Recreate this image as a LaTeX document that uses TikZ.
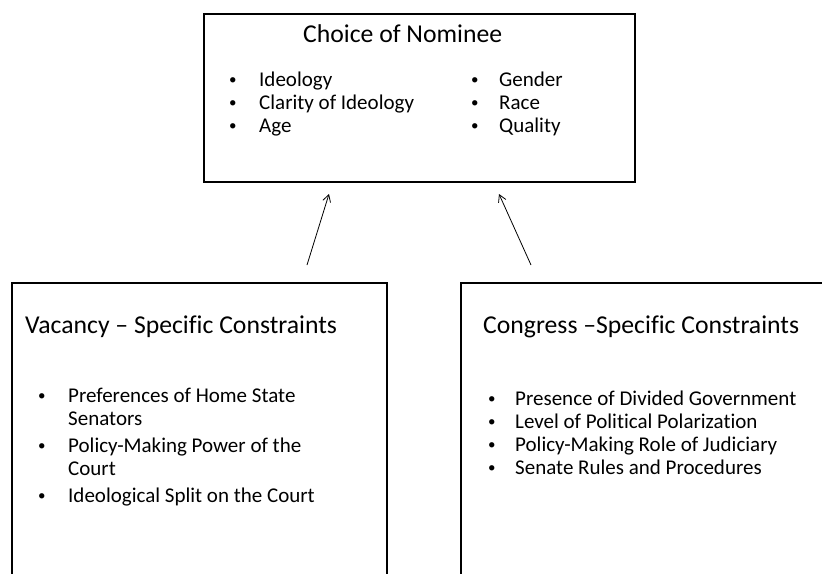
\documentclass[tikz,border=0pt]{standalone}
\usepackage{fontspec}
\setmainfont{Carlito}[RawFeature={-liga;-clig;-dlig}]
\usetikzlibrary{arrows.meta}
\begin{document}
\begin{tikzpicture}[x=1pt,y=-1pt,
  box/.style={draw,line width=2.4pt,inner sep=0pt,anchor=north west},
  ttl/.style={anchor=base west,inner sep=0pt,font=\fontsize{25.7}{30}\selectfont},
  itm/.style={anchor=base west,inner sep=0pt,font=\fontsize{21}{25}\selectfont},
  bul/.style={anchor=base west,inner sep=0pt,font=\fontsize{15}{18}\selectfont},
  arr/.style={-{Straight Barb[length=7pt,width=8pt]},line width=0.8pt}]
\useasboundingbox (0,0) rectangle (822,573);
\clip (0,0) rectangle (822,573);
% boxes
\node[box,minimum width=431pt,minimum height=168pt] (nom) at (203,13) {};
\node[box,minimum width=375pt,minimum height=330pt] (vac) at (11,282) {};
\node[box,minimum width=420pt,minimum height=330pt] (con) at (460,282) {};
% top box text
\node[ttl] (tnom) at (303,42) {Choice of Nominee};
\node[bul] (b1) at (229,84) {•};
\node[itm] (i1) at (259,86) {Ideology};
\node[bul] (b2) at (229,107) {•};
\node[itm] (i2) at (259,109) {Clarity of Ideology};
\node[bul] (b3) at (229,130) {•};
\node[itm] (i3) at (259,132) {Age};
\node[bul] (b4) at (471,84) {•};
\node[itm] (i4) at (499,86) {Gender};
\node[bul] (b5) at (471,107) {•};
\node[itm] (i5) at (499,109) {Race};
\node[bul] (b6) at (471,130) {•};
\node[itm] (i6) at (499,132) {Quality};
% left box text
\node[ttl] (tvac) at (25,333) {Vacancy – Specific Constraints};
\node[bul] (v1b) at (38,400) {•};
\node[itm] (v1) at (68,402) {Preferences of Home State};
\node[itm] (v1c) at (68,425) {Senators};
\node[bul] (v2b) at (38,450) {•};
\node[itm] (v2) at (68,452) {Policy-Making Power of the};
\node[itm] (v2c) at (68,475) {Court};
\node[bul] (v3b) at (38,500) {•};
\node[itm] (v3) at (68,502) {Ideological Split on the Court};
% right box text
\node[ttl] (tcon) at (483,333) {Congress –Specific Constraints};
\node[bul] (c1b) at (488,403) {•};
\node[itm] (c1) at (515,405) {Presence of Divided Government};
\node[bul] (c2b) at (488,426) {•};
\node[itm] (c2) at (515,428) {Level of Political Polarization};
\node[bul] (c3b) at (488,449) {•};
\node[itm] (c3) at (515,451) {Policy-Making Role of Judiciary};
\node[bul] (c4b) at (488,472) {•};
\node[itm] (c4) at (515,474) {Senate Rules and Procedures};
% arrows
\coordinate (la) at (307,265);
\coordinate (lb) at (329,194);
\coordinate (ra) at (531,265);
\coordinate (rb) at (499,194);
\draw[arr] (la) -- (lb);
\draw[arr] (ra) -- (rb);
\end{tikzpicture}
\end{document}
